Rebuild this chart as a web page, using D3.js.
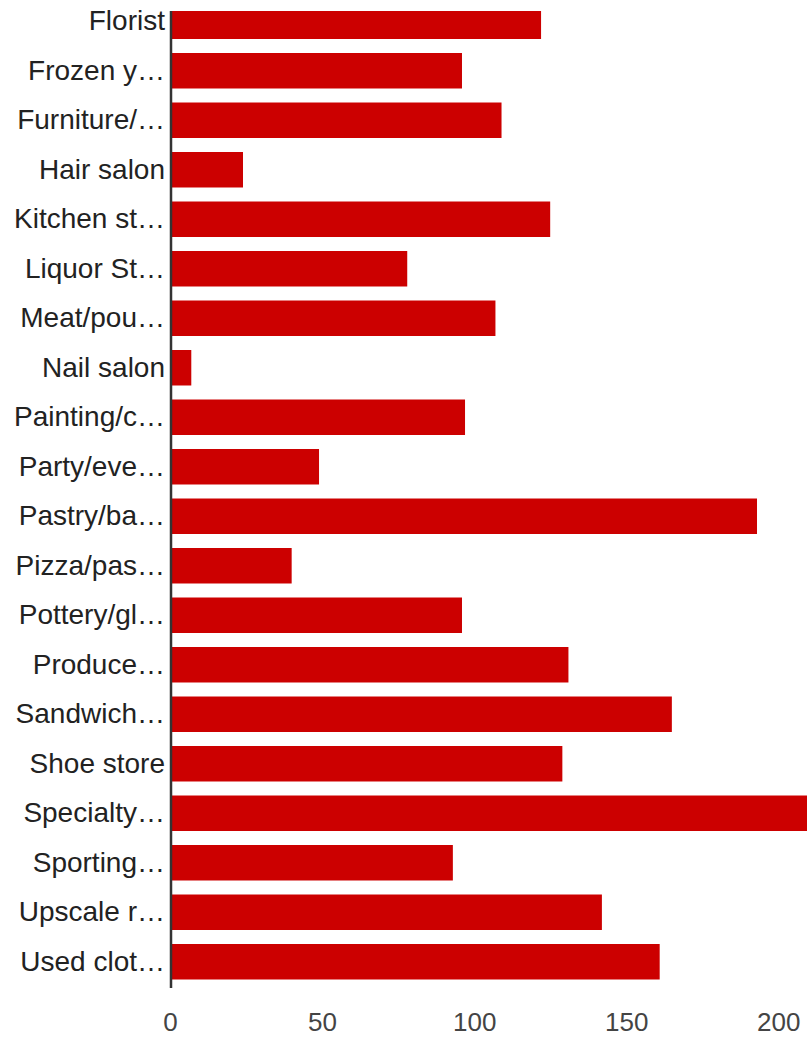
<!DOCTYPE html>
<html>
<head>
<meta charset="utf-8">
<script src="https://cdn.jsdelivr.net/npm/d3@7"></script>
<style>
  body { margin: 0; background: #fff; }
  svg { display: block; }
</style>
</head>
<body>
<script>
// CATEGORY LABELS (AS SHOWN, TRUNCATED)
var categories = [
    "Florist", "Frozen y\u2026", "Furniture/\u2026", "Hair salon", "Kitchen st\u2026",
    "Liquor St\u2026", "Meat/pou\u2026", "Nail salon", "Painting/c\u2026", "Party/eve\u2026",
    "Pastry/ba\u2026", "Pizza/pas\u2026", "Pottery/gl\u2026", "Produce\u2026", "Sandwich\u2026",
    "Shoe store", "Specialty\u2026", "Sporting\u2026", "Upscale r\u2026", "Used clot\u2026"
];

// BAR VALUES
var values = [122, 96, 109, 24, 125, 78, 107, 7, 97, 49,
              193, 40, 96, 131, 165, 129, 215, 93, 142, 161];

// X AXIS TICKS
var xTicks = [0, 50, 100, 150, 200];

var data = categories.map((c, i) => ({name: c, value: values[i]}));

var width = 807;
var height = 1037;

var svg = d3.select("body")
    .append("svg")
    .attr("width", width)
    .attr("height", height);

// CLIP THE PLOT AREA
svg.append("clipPath")
    .attr("id", "plot-clip")
    .append("rect")
    .attr("x", 170)
    .attr("y", 11)
    .attr("width", width - 170)
    .attr("height", 978);

var x = d3.scaleLinear()
    .domain([0, 200])
    .range([170, 778.3]);

var y = d3.scaleBand()
    .domain(categories)
    .range([-3.5, 986.5])
    .paddingInner(0.283)
    .paddingOuter(0.1415);

// BARS
svg.append("g")
    .attr("clip-path", "url(#plot-clip)")
    .selectAll("rect")
    .data(data)
    .enter()
    .append("rect")
    .attr("x", x(0))
    .attr("y", d => y(d.name))
    .attr("width", d => x(d.value) - x(0))
    .attr("height", y.bandwidth())
    .attr("fill", "#cc0000");

// CATEGORY AXIS
var yAxis = d3.axisLeft(y).tickSize(0).tickPadding(6);
var gy = svg.append("g")
    .attr("transform", "translate(171, 0)")
    .call(yAxis);
gy.select(".domain").remove();
gy.selectAll("text")
    .attr("font-family", "Arial, 'Liberation Sans', sans-serif")
    .attr("font-size", 28)
    .attr("fill", "#222");

// BASELINE
svg.append("line")
    .attr("x1", x(0) + 1)
    .attr("x2", x(0) + 1)
    .attr("y1", 11)
    .attr("y2", 988)
    .attr("stroke", "#333")
    .attr("stroke-width", 2.5);

// VALUE AXIS
var xAxis = d3.axisBottom(x).tickValues(xTicks).tickSize(0).tickPadding(0);
var gx = svg.append("g")
    .attr("transform", "translate(0, 1013)")
    .call(xAxis);
gx.select(".domain").remove();
gx.selectAll("text")
    .attr("font-family", "Arial, 'Liberation Sans', sans-serif")
    .attr("font-size", 26)
    .attr("fill", "#444")
    .attr("dy", "0.71em");
</script>
</body>
</html>
